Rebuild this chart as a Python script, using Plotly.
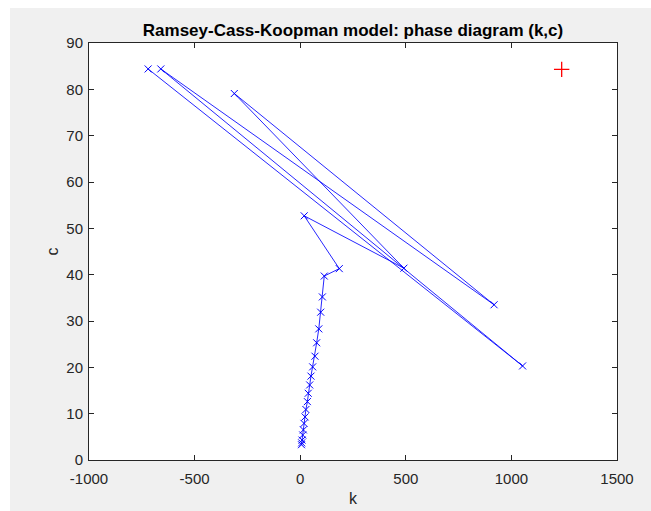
import plotly.graph_objects as go

# Trajectory in the (k, c) phase plane, in drawing order
k_path = [6, 7, 8.5, 12, 15, 18, 23, 27, 34, 38, 45, 51, 59, 70, 78, 88, 97, 105, 114,
          185, 19, 491, -312, 918, -660, 1053, -720]
c_path = [3.3, 3.7, 4.3, 5.4, 6.5, 7.9, 9.3, 10.9, 12.6, 14.4, 16.2, 18.1, 20.1, 22.4, 25.3,
          28.3, 31.9, 35.2, 39.7,
          41.3, 52.7, 41.4, 79.1, 33.5, 84.4, 20.3, 84.4]

# Steady state marker
k_star = [1238]
c_star = [84.3]

x_ticks = [-1000, -500, 0, 500, 1000, 1500]
x_labels = ["-1000", "-500", "0", "500", "1000", "1500"]
y_ticks = [0, 10, 20, 30, 40, 50, 60, 70, 80, 90]
y_labels = [str(v) for v in y_ticks]

FONT = "Liberation Sans, Arial, Helvetica, sans-serif"
AX = "#262626"

fig = go.Figure()
fig.add_trace(go.Scatter(
    x=k_path, y=c_path, mode="lines+markers",
    line=dict(color="rgba(0,0,255,0.85)", width=1),
    marker=dict(symbol="x-thin", size=7, line=dict(color="rgb(0,0,255)", width=1)),
    showlegend=False,
))
fig.add_trace(go.Scatter(
    x=k_star, y=c_star, mode="markers",
    marker=dict(symbol="cross-thin", size=11, line=dict(color="rgb(255,0,0)", width=1.3)),
    showlegend=False,
))

axis_common = dict(
    showgrid=False, zeroline=False, showline=True, linecolor=AX, linewidth=1,
    mirror="ticks", ticks="inside", ticklen=5, tickcolor=AX, tickwidth=1,
    tickfont=dict(family=FONT, size=15, color=AX), automargin=False,
)

fig.update_layout(
    width=651, height=511,
    margin=dict(l=89, r=34, t=43, b=51),
    paper_bgcolor="#F0F0F0", plot_bgcolor="white",
    title=dict(text="<b>Ramsey-Cass-Koopman model: phase diagram (k,c)</b>",
               x=0.5, xref="paper", y=1 - 30 / 511, yref="container",
               xanchor="center", yanchor="middle",
               font=dict(family=FONT, size=17, color="black")),
    xaxis=dict(range=[-1000, 1500], tickvals=x_ticks, ticktext=x_labels,
               ticklabelstandoff=5, **axis_common,
               title=dict(text="k", standoff=6, font=dict(family=FONT, size=16, color=AX))),
    yaxis=dict(range=[0, 90], tickvals=y_ticks, ticktext=y_labels,
               ticklabelstandoff=2, **axis_common,
               title=dict(text="c", standoff=3, font=dict(family=FONT, size=16, color=AX))),
    shapes=[
        dict(type="rect", xref="paper", yref="paper", x0=-0.2, x1=1.1,
             y0=(460 - 8) / 417, y1=1.2, fillcolor="white", line=dict(width=0), layer="below"),
        dict(type="rect", xref="paper", yref="paper", x0=-0.2, x1=(10 - 89) / 528,
             y0=-0.2, y1=1.2, fillcolor="white", line=dict(width=0), layer="below"),
    ],
)

fig.write_html("out.html")
